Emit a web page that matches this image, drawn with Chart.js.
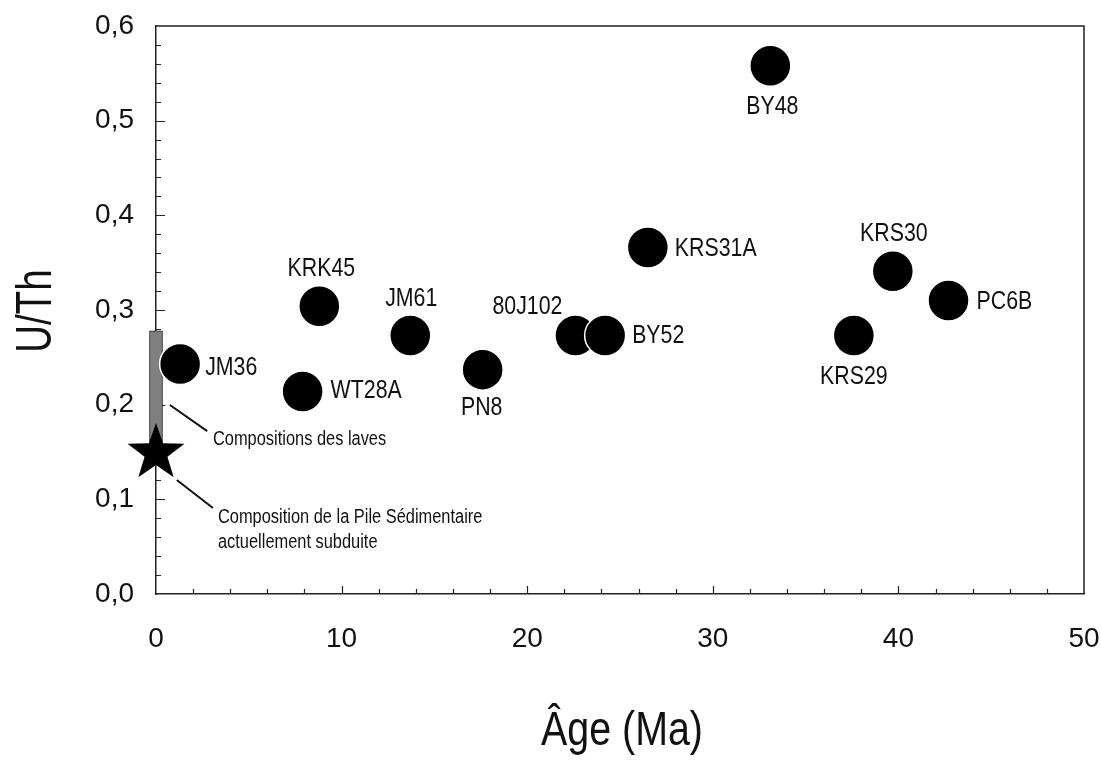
<!DOCTYPE html>
<html><head><meta charset="utf-8">
<script src="https://cdn.jsdelivr.net/npm/chart.js@4"></script>
<style>html,body{margin:0;padding:0;background:#fff}</style>
</head><body>
<canvas id="c" width="1101" height="763"></canvas>
<script>
// ---- data ----
const samples = ['JM36','WT28A','KRK45','JM61','PN8','80J102','BY52','KRS31A','BY48','KRS30','PC6B','KRS29'];
const ages    = [1.3, 7.9, 8.8, 13.7, 17.6, 22.6, 24.2, 26.5, 33.1, 39.7, 42.7, 37.6];
const uth     = [0.243, 0.214, 0.304, 0.273, 0.237, 0.273, 0.273, 0.366, 0.558, 0.341, 0.310, 0.273];
const sedimentAge = [0];
const sedimentUTh = [0.149];
const lavaAge = [0];
const lavaUThRange = [0.16, 0.278];
const xTickValues = [0, 10, 20, 30, 40, 50];
const yTickValues = [0, 0.1, 0.2, 0.3, 0.4, 0.5, 0.6];
const xMinorStep = 2;
const yMinorStep = 0.02;
const lavaNote = ['Compositions des laves'];
const sedimentNote = ['Composition de la Pile Sédimentaire', 'actuellement subduite'];
const xTitle = 'Âge (Ma)';
const yTitle = 'U/Th';

// ---- styling / placement (not data) ----
const F = "'Liberation Sans',Arial,sans-serif";
const NARROW = 0.82;
const labelPlace = {
  'JM36':[25,4,'left'], 'WT28A':[28,-1,'left'], 'KRK45':[2,-37,'center'], 'JM61':[1,-37,'center'],
  'PN8':[-1,38,'center'], '80J102':[-48,-29,'center'], 'BY52':[27,0,'left'], 'KRS31A':[27,1,'left'],
  'BY48':[2,41,'center'], 'KRS30':[1,-37,'center'], 'PC6B':[28,1,'left'], 'KRS29':[0,41,'center']
};

function narrowText(ctx, t, x, y, sx){
  ctx.save(); ctx.translate(x, y); ctx.scale(sx || NARROW, 1); ctx.fillText(t, 0, 0); ctx.restore();
}

function makeStar(R){
  const s = Math.ceil(2*R+2);
  const c = document.createElement('canvas'); c.width = c.height = s;
  const g = c.getContext('2d'); g.fillStyle = '#000'; g.beginPath();
  const r = R*0.40;
  for (let i=0;i<10;i++){ const a=-Math.PI/2+i*Math.PI/5; const rr=(i%2)?r:R; g.lineTo(s/2+rr*Math.cos(a), s/2+rr*Math.sin(a)); }
  g.closePath(); g.fill();
  return c;
}
const star = makeStar(30);

const decor = {
  id:'decor',
  beforeDatasetsDraw(chart){
    const {ctx, chartArea:a, scales:{x,y}} = chart;
    ctx.save();
    ctx.strokeStyle = '#222'; ctx.lineWidth = 1.5;
    ctx.beginPath(); ctx.moveTo(a.left,a.top); ctx.lineTo(a.right,a.top); ctx.lineTo(a.right,a.bottom); ctx.stroke();
    ctx.lineWidth = 1.2; ctx.beginPath();
    for (let v = x.min + xMinorStep; v < x.max - 1e-9; v += xMinorStep){
      const px = Math.round(x.getPixelForValue(v)) + 0.5;
      const major = Math.abs(v/10 - Math.round(v/10)) < 1e-6;
      ctx.moveTo(px, a.bottom); ctx.lineTo(px, a.bottom - (major?8:5));
    }
    for (let v = y.min + yMinorStep; v < y.max - 1e-9; v += yMinorStep){
      const py = Math.round(y.getPixelForValue(v)) + 0.5;
      const major = Math.abs(v/0.1 - Math.round(v/0.1)) < 1e-6;
      ctx.moveTo(a.left, py); ctx.lineTo(a.left + (major?9:5), py);
    }
    ctx.stroke();
    ctx.restore();
  },
  afterDatasetsDraw(chart){
    const {ctx, chartArea:a, scales:{x,y}} = chart;
    ctx.save();
    ctx.fillStyle = '#111';
    // point labels
    ctx.font = '26px ' + F; ctx.textBaseline = 'middle';
    const meta = chart.getDatasetMeta(0);
    meta.data.forEach((pt, i) => {
      const p = labelPlace[samples[i]] || [25,0,'left'];
      ctx.textAlign = p[2];
      narrowText(ctx, samples[i], pt.x + p[0], pt.y + p[1]);
    });
    // annotations with leader lines
    ctx.strokeStyle = '#111'; ctx.lineWidth = 2;
    ctx.beginPath();
    ctx.moveTo(x.getPixelForValue(0.75), y.getPixelForValue(0.1996));
    ctx.lineTo(x.getPixelForValue(2.76), y.getPixelForValue(0.172));
    ctx.moveTo(x.getPixelForValue(1.12), y.getPixelForValue(0.1204));
    ctx.lineTo(x.getPixelForValue(3.07), y.getPixelForValue(0.0908));
    ctx.stroke();
    ctx.font = '20px ' + F; ctx.textAlign = 'left';
    narrowText(ctx, lavaNote[0], x.getPixelForValue(3.07), y.getPixelForValue(0.1627));
    narrowText(ctx, sedimentNote[0], x.getPixelForValue(3.34), y.getPixelForValue(0.0803));
    narrowText(ctx, sedimentNote[1], x.getPixelForValue(3.34), y.getPixelForValue(0.0549));
    // axis titles
    ctx.textBaseline = 'alphabetic'; ctx.textAlign = 'center';
    ctx.font = '48px ' + F;
    narrowText(ctx, xTitle, (a.left + a.right)/2 + 2, 745);
    ctx.save();
    ctx.translate(51, 311); ctx.rotate(-Math.PI/2);
    ctx.font = '50px ' + F;
    narrowText(ctx, yTitle, 0, 0, 0.77);
    ctx.restore();
    ctx.restore();
  }
};

new Chart(document.getElementById('c'), {
  type: 'scatter',
  data: {
    datasets: [
      { label:'Échantillons', data: ages.map((v,i)=>({x:v, y:uth[i]})), clip:false,
        pointRadius: 20.5, pointHoverRadius: 20.5, pointBackgroundColor:'#000', pointBorderColor:'#fff', pointBorderWidth:1.5 },
      { label:'Pile sédimentaire', data: sedimentAge.map((v,i)=>({x:v, y:sedimentUTh[i]})), clip:false,
        pointStyle: star, pointRadius: 30 },
      { type:'bar', label:'Laves', data: lavaAge.map(v=>({x:v, y:lavaUThRange})), clip:false,
        backgroundColor:'#808080', borderColor:'#222', borderWidth:1, borderSkipped:false,
        barThickness: 13, grouped:false }
    ]
  },
  options: {
    responsive:false, animation:false, events:[],
    layout:{autoPadding:false, padding:{left:0, right:17, top:26, bottom:0}},
    plugins:{legend:{display:false}, tooltip:{enabled:false}},
    scales:{
      x:{ type:'linear', min:0, max:50, offset:false,
          afterFit(s){ s.height = 169; s.paddingLeft = 0; s.paddingRight = 0; },
          afterBuildTicks(s){ s.ticks = xTickValues.map(v=>({value:v})); },
          grid:{display:true, drawOnChartArea:false, drawTicks:false, offset:false},
          border:{display:true, color:'#222', width:1.5},
          ticks:{ padding:28, color:'#111', font:{family:F, size:28}, maxRotation:0, autoSkip:false,
                  callback:v=>String(v) } },
      y:{ type:'linear', min:0, max:0.6,
          afterFit(s){ s.width = 156; s.paddingTop = 0; s.paddingBottom = 0; },
          afterBuildTicks(s){ s.ticks = yTickValues.map(v=>({value:v})); },
          grid:{display:true, drawOnChartArea:false, drawTicks:false},
          border:{display:true, color:'#222', width:1.5},
          ticks:{ padding:22, color:'#111', font:{family:F, size:28}, autoSkip:false,
                  callback:v=>Number(v).toFixed(1).replace('.', ',') } }
    }
  },
  plugins:[decor]
});
</script>
</body></html>
